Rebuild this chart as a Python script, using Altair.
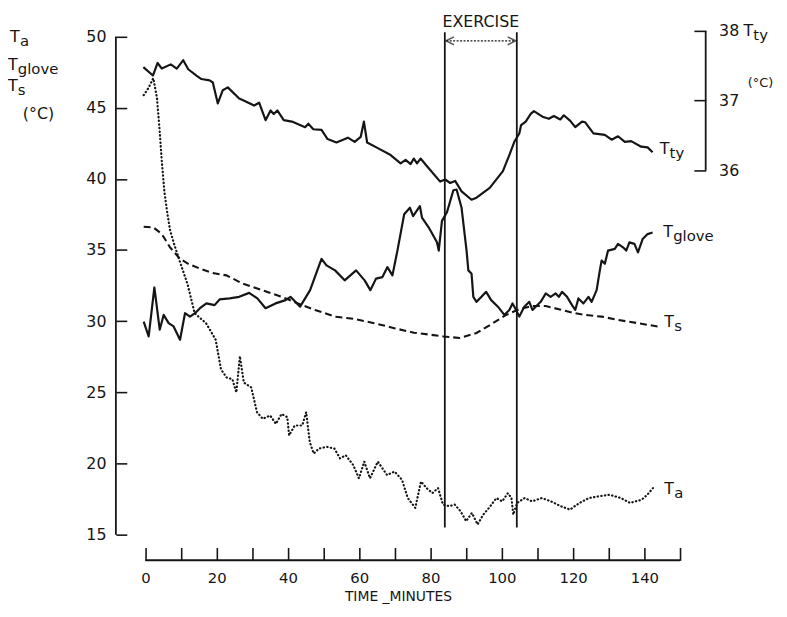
import altair as alt
import pandas as pd

# ---------------- data (time in minutes, temperatures in °C) ----------------
tty_t = [-0.6, 2.1, 3.4, 4.6, 7.1, 8.8, 10.6, 12.0, 14.3, 15.7,
         18.0, 18.9, 20.3, 21.7, 23.1, 26.3, 27.7, 30.5, 31.9, 33.7,
         35.1, 36.0, 37.0, 38.8, 41.1, 44.8, 45.7, 47.1, 49.4, 51.1,
         53.6, 56.8, 58.7, 60.4, 61.3, 62.2, 65.2, 68.8, 71.6, 73.0,
         74.4, 75.3, 76.2, 77.2, 79.0, 82.7, 84.1, 85.5, 86.9, 88.7,
         91.5, 92.9, 96.6, 100.3, 102.1, 103.5, 104.9, 105.4, 106.7, 108.1,
         109.0, 111.4, 113.2, 114.6, 116.4, 117.4, 119.2, 120.6, 122.5, 123.4,
         125.7, 128.9, 130.8, 132.6, 134.5, 136.3, 139.1, 140.9, 142.3]
tty_v = [37.48, 37.36, 37.54, 37.46, 37.52, 37.46, 37.58, 37.45, 37.36, 37.31,
         37.29, 37.26, 36.96, 37.15, 37.19, 37.03, 37.00, 36.93, 36.97, 36.72,
         36.86, 36.81, 36.86, 36.72, 36.70, 36.62, 36.67, 36.59, 36.58, 36.45,
         36.40, 36.47, 36.41, 36.48, 36.70, 36.40, 36.32, 36.22, 36.10, 36.15,
         36.09, 36.17, 36.10, 36.17, 36.06, 35.84, 35.87, 35.82, 35.85, 35.70,
         35.58, 35.61, 35.75, 35.99, 36.22, 36.41, 36.53, 36.65, 36.70, 36.81,
         36.85, 36.77, 36.74, 36.78, 36.73, 36.79, 36.71, 36.62, 36.70, 36.69,
         36.53, 36.51, 36.44, 36.49, 36.41, 36.42, 36.34, 36.33, 36.26]

glove_t = [-0.5, 0.9, 2.5, 4.0, 5.1, 6.5, 7.9, 9.7, 11.1, 12.5,
           13.9, 15.3, 17.1, 19.4, 20.8, 23.6, 26.3, 29.1, 31.4, 33.7,
           36.5, 39.3, 40.7, 43.4, 46.2, 49.4, 50.8, 53.2, 55.9, 59.1,
           61.5, 63.1, 64.7, 66.5, 67.9, 69.3, 70.7, 72.6, 74.2, 75.1,
           77.0, 77.6, 79.5, 81.8, 82.3, 83.2, 84.6, 86.4, 87.3, 88.7,
           90.1, 90.6, 91.5, 92.0, 92.9, 93.8, 95.6, 97.0, 98.9, 100.7,
           102.1, 103.0, 104.0, 104.9, 106.3, 107.7, 108.6, 109.5, 110.9, 112.3,
           113.7, 115.1, 116.0, 116.9, 118.3, 119.7, 120.6, 121.5, 122.9, 124.3,
           125.2, 126.6, 127.5, 128.0, 128.9, 129.8, 131.7, 132.6, 134.0, 134.9,
           135.8, 137.2, 138.2, 139.5, 140.9, 142.3]
glove_v = [29.97, 28.93, 32.37, 29.40, 30.44, 29.86, 29.63, 28.70, 30.56, 30.32,
           30.56, 30.91, 31.25, 31.13, 31.53, 31.60, 31.71, 31.99, 31.60, 30.91,
           31.25, 31.48, 31.71, 31.02, 32.18, 34.38, 33.92, 33.57, 32.87, 33.57,
           32.87, 32.18, 32.99, 33.10, 33.80, 33.22, 34.96, 37.51, 37.97, 37.39,
           38.09, 37.28, 36.58, 35.54, 34.96, 37.05, 37.65, 39.20, 39.25, 37.97,
           34.96, 33.57, 33.34, 31.71, 31.36, 31.60, 32.06, 31.48, 31.02, 30.44,
           30.79, 31.25, 30.79, 30.32, 31.02, 31.36, 30.79, 31.02, 31.36, 31.95,
           31.71, 31.95, 31.71, 32.06, 31.71, 31.13, 30.79, 31.60, 31.25, 31.71,
           31.36, 32.18, 33.57, 34.26, 34.03, 34.96, 35.08, 35.43, 35.19, 34.96,
           35.54, 35.43, 34.84, 35.77, 36.12, 36.23]

ts_t = [-0.5, 2.3, 4.6, 6.9, 9.7, 12.0, 15.3, 18.9, 22.7, 27.3,
        32.8, 38.3, 43.9, 47.6, 53.2, 58.7, 64.2, 69.8, 75.3, 79.9,
        83.6, 88.2, 92.9, 97.5, 101.2, 104.9, 108.6, 112.3, 116.0, 119.7,
        123.4, 128.0, 132.6, 138.2, 143.7]
ts_v = [36.63, 36.58, 36.12, 35.19, 34.38, 34.03, 33.69, 33.38, 33.22, 32.64,
        32.18, 31.71, 31.13, 30.79, 30.32, 30.16, 29.86, 29.51, 29.19, 29.05,
        28.93, 28.82, 29.17, 29.86, 30.44, 30.84, 31.07, 31.07, 30.84, 30.60,
        30.44, 30.32, 30.09, 29.86, 29.63]

ta_t = [-0.5, 0.8, 2.2, 3.2, 3.9, 4.6, 5.3, 6.1, 6.9, 8.0,
        9.2, 10.5, 11.9, 13.8, 17.0, 19.7, 21.2, 22.8, 24.4, 25.5,
        26.5, 27.6, 29.7, 31.3, 32.9, 35.0, 36.6, 38.2, 39.8, 40.3,
        41.9, 44.0, 45.1, 46.1, 47.2, 48.7, 50.9, 53.0, 54.6, 56.2,
        58.3, 59.9, 61.4, 63.0, 65.2, 67.8, 69.9, 72.0, 73.6, 75.7,
        77.3, 78.9, 80.5, 82.1, 83.5, 85.3, 86.8, 88.4, 90.0, 91.6,
        93.2, 94.8, 96.4, 98.5, 100.1, 101.7, 102.7, 103.2, 104.3, 106.4,
        108.5, 111.2, 113.8, 116.5, 119.1, 121.8, 124.4, 127.1, 130.2, 133.4,
        136.0, 139.2, 140.8, 142.4]
ta_v = [45.88, 46.37, 47.07, 45.74, 43.66, 41.17, 39.13, 37.65, 36.40, 35.45,
        34.53, 33.56, 32.53, 30.56, 29.86, 28.70, 26.61, 26.04, 25.92, 24.99,
        27.54, 25.69, 25.34, 23.60, 23.14, 23.37, 22.79, 23.48, 23.26, 21.98,
        22.67, 22.67, 23.60, 21.52, 20.70, 21.05, 21.17, 21.05, 20.36, 20.58,
        19.89, 18.96, 20.13, 18.96, 20.13, 19.19, 19.43, 18.85, 17.57, 16.88,
        18.73, 18.27, 17.92, 18.27, 17.11, 17.00, 17.11, 16.65, 15.95, 16.53,
        15.72, 16.41, 16.88, 17.57, 17.34, 17.92, 17.57, 16.41, 17.23, 17.57,
        17.34, 17.57, 17.34, 17.00, 16.76, 17.23, 17.57, 17.69, 17.80, 17.57,
        17.23, 17.45, 17.80, 18.27]

x_ticks = list(range(0, 151, 10))
y_ticks = [15, 20, 25, 30, 35, 40, 45, 50]
tty_ticks = [36, 37, 38]
exercise = [84.0, 104.2]

# series end labels: main letter + subscript, position (minutes, value)
end_main = ["T", "T", "T"]
end_sub = ["glove", "s", "a"]
end_t = [145.3, 145.6, 145.6]
end_v = [36.28, 29.95, 18.20]

# left-hand stacked title
ttl_main = ["T", "T", "T"]
ttl_sub = ["a", "glove", "s"]
ttl_t = [-38.0, -38.6, -38.6]
ttl_v = [49.98, 48.03, 46.50]

# ---------------- styling ----------------
FONT = "DejaVu Sans"
INK = "#151515"
X_DOM = [-8.3, 150]
Y_DOM = [15, 50.4]
TTY_DOM = [30.78, 38.0]

xs = alt.Scale(domain=X_DOM, nice=False, zero=False)
ys = alt.Scale(domain=Y_DOM, nice=False, zero=False)
tys = alt.Scale(domain=TTY_DOM, nice=False, zero=False)


def frame(**cols):
    return pd.DataFrame(cols)


x_axis = alt.Axis(values=x_ticks,
                  labelExpr="datum.value % 20 === 0 ? datum.label : ''",
                  domain=False, grid=False, tickSize=13, offset=13,
                  tickColor=INK, tickWidth=1.6, labelPadding=10,
                  labelFont=FONT, labelFontSize=15, labelColor=INK,
                  labelFlush=False, labelOverlap=False,
                  title="TIME _MINUTES", titleFont=FONT, titleFontSize=14,
                  titleFontWeight="normal", titleColor=INK,
                  titleBaseline="alphabetic", titleY=54)

y_axis = alt.Axis(values=y_ticks, domain=False, grid=False, tickSize=11,
                  offset=-11, tickColor=INK, tickWidth=1.6, labelPadding=10,
                  labelFont=FONT, labelFontSize=16, labelColor=INK,
                  labelFlush=False, labelOverlap=False, title=None)

tty_axis = alt.Axis(orient="right", values=tty_ticks, domain=False,
                    grid=False, tickSize=12, offset=14, tickColor=INK,
                    tickWidth=1.6, labelPadding=13, labelFont=FONT,
                    labelFontSize=16, labelColor=INK, labelFlush=False,
                    labelOverlap=False, title=None)


# every layer carries the identical axis spec so that the shared axes merge
def X(f):
    return alt.X(f, scale=xs, axis=x_axis)


def Y(f):
    return alt.Y(f, scale=ys, axis=y_axis)


def YT(f):
    return alt.Y(f, scale=tys, axis=tty_axis)


# ---------------- left-scale layers ----------------
ta = alt.Chart(frame(t=ta_t, v=ta_v)).mark_line(
    color=INK, strokeWidth=2.2, strokeDash=[0.4, 3.3], strokeCap="round"
).encode(x=X("t:Q"), y=Y("v:Q"))

ts_line = alt.Chart(frame(t=ts_t, v=ts_v)).mark_line(
    color=INK, strokeWidth=2.1, strokeDash=[7, 4]
).encode(x=X("t:Q"), y=Y("v:Q"))

glove = alt.Chart(frame(t=glove_t, v=glove_v)).mark_line(
    color=INK, strokeWidth=2.2, strokeJoin="round"
).encode(x=X("t:Q"), y=Y("v:Q"))

ldom = alt.Chart(frame(t=[X_DOM[0]], a=[Y_DOM[0]], b=[50])).mark_rule(
    color=INK, strokeWidth=1.8
).encode(x=X("t:Q"), y=Y("a:Q"), y2="b:Q")

xbase = alt.Chart(frame(t=[0], b=[150], v=[13.2])).mark_rule(
    color=INK, strokeWidth=1.8
).encode(x=X("t:Q"), x2="b:Q", y=Y("v:Q"))

ex_lines = alt.Chart(frame(t=exercise, a=[15.5, 15.5], b=[50.3, 50.3])).mark_rule(
    color=INK, strokeWidth=1.8
).encode(x=X("t:Q"), y=Y("a:Q"), y2="b:Q")

arrow = alt.Chart(frame(t=[exercise[0] + 0.4], b=[exercise[1] - 0.4], v=[49.7])).mark_rule(
    color=INK, strokeWidth=1.3, strokeDash=[2, 1.5]
).encode(x=X("t:Q"), x2="b:Q", y=Y("v:Q"))

head_l = alt.Chart(frame(t=[exercise[0] + 1.45], v=[49.7])).mark_point(
    shape="M 1 -1 L -1 0 L 1 1", filled=False, size=64, color=INK, strokeWidth=1.6
).encode(x=X("t:Q"), y=Y("v:Q"))

head_r = alt.Chart(frame(t=[exercise[1] - 1.45], v=[49.7])).mark_point(
    shape="M -1 -1 L 1 0 L -1 1", filled=False, size=64, color=INK, strokeWidth=1.6
).encode(x=X("t:Q"), y=Y("v:Q"))

ex_text = alt.Chart(frame(t=[sum(exercise) / 2], v=[51.0], s=["EXERCISE"])).mark_text(
    font=FONT, fontSize=16, color=INK, align="center", baseline="middle"
).encode(x=X("t:Q"), y=Y("v:Q"), text="s:N")

end_T = alt.Chart(frame(t=end_t, v=end_v, s=end_main)).mark_text(
    font=FONT, fontSize=16, color=INK, align="left", baseline="middle"
).encode(x=X("t:Q"), y=Y("v:Q"), text="s:N")

end_S = alt.Chart(frame(t=end_t, v=end_v, s=end_sub)).mark_text(
    font=FONT, fontSize=15, color=INK, align="left", baseline="middle", dx=10, dy=4
).encode(x=X("t:Q"), y=Y("v:Q"), text="s:N")

ttl_T = alt.Chart(frame(t=ttl_t, v=ttl_v, s=ttl_main)).mark_text(
    font=FONT, fontSize=16, color=INK, align="left", baseline="middle"
).encode(x=X("t:Q"), y=Y("v:Q"), text="s:N")

ttl_S = alt.Chart(frame(t=ttl_t, v=ttl_v, s=ttl_sub)).mark_text(
    font=FONT, fontSize=15, color=INK, align="left", baseline="middle", dx=10, dy=4
).encode(x=X("t:Q"), y=Y("v:Q"), text="s:N")

ttl_C = alt.Chart(frame(t=[-34.4], v=[44.55], s=["(°C)"])).mark_text(
    font=FONT, fontSize=16, color=INK, align="left", baseline="middle"
).encode(x=X("t:Q"), y=Y("v:Q"), text="s:N")

left = alt.layer(ta, ts_line, glove, ldom, xbase, ex_lines, arrow, head_l,
                 head_r, ex_text, end_T, end_S, ttl_T, ttl_S, ttl_C)

# ---------------- right-scale (T_ty) layers ----------------
tty = alt.Chart(frame(t=tty_t, v=tty_v)).mark_line(
    color=INK, strokeWidth=2.2, strokeJoin="round"
).encode(x=X("t:Q"), y=YT("v:Q"))

bracket = alt.Chart(frame(t=[157.2], a=[36], b=[38])).mark_rule(
    color=INK, strokeWidth=1.8
).encode(x=X("t:Q"), y=YT("a:Q"), y2="b:Q")

tty_lab_t = [144.3, 167.8]
tty_lab_v = [36.30, 38.0]
tty_T = alt.Chart(frame(t=tty_lab_t, v=tty_lab_v, s=["T", "T"])).mark_text(
    font=FONT, fontSize=16, color=INK, align="left", baseline="middle"
).encode(x=X("t:Q"), y=YT("v:Q"), text="s:N")

tty_S = alt.Chart(frame(t=tty_lab_t, v=tty_lab_v, s=["ty", "ty"])).mark_text(
    font=FONT, fontSize=15, color=INK, align="left", baseline="middle", dx=10, dy=4
).encode(x=X("t:Q"), y=YT("v:Q"), text="s:N")

tty_C = alt.Chart(frame(t=[169.0], v=[37.25], s=["(°C)"])).mark_text(
    font=FONT, fontSize=13, color=INK, align="left", baseline="middle"
).encode(x=X("t:Q"), y=YT("v:Q"), text="s:N")

right = alt.layer(tty, bracket, tty_T, tty_S, tty_C)

chart = alt.layer(left, right).resolve_scale(y="independent").properties(
    width=570, height=509,
    autosize=alt.AutoSizeParams(type="none"),
    padding={"left": 109, "top": 20, "right": 100, "bottom": 71},
    background="white",
).configure_view(stroke=None)

chart.save("out.html", embed_options={"renderer": "svg", "actions": False})
